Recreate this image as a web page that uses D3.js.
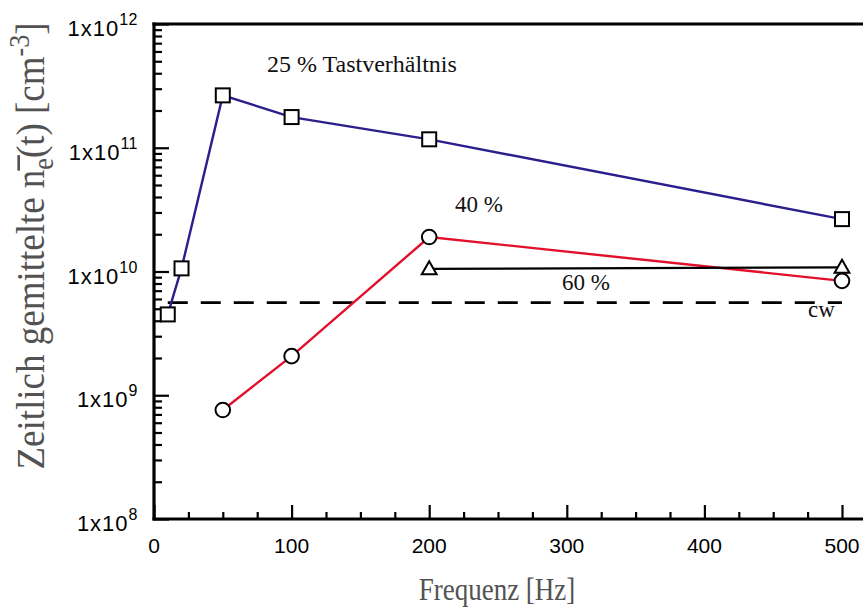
<!DOCTYPE html>
<html>
<head>
<meta charset="utf-8">
<script src="https://cdn.jsdelivr.net/npm/d3@7"></script>
<style>
  html, body { margin: 0; padding: 0; background: #fff; }
  svg { display: block; }
</style>
</head>
<body>
<svg id="chart" width="863" height="607"></svg>
<script>
// Mean electron density vs. modulation frequency for several duty cycles
const freq25 = [10, 20, 50, 100, 200, 500];
const dens25 = [4.5e9, 1.06e10, 2.65e11, 1.77e11, 1.17e11, 2.65e10];

const freq40 = [50, 100, 200, 500];
const dens40 = [7.6e8, 2.07e9, 1.9e10, 8.4e9];

const freq60 = [200, 500];
const dens60 = [1.05e10, 1.08e10];

const cwRange = [10, 500];
const cwDensity = 5.6e9;

const xTicks = [0, 100, 200, 300, 400, 500];
const yTickExp = [8, 9, 10, 11, 12];

const plotLeft = 154, plotRight = 863, plotTop = 24, plotBottom = 519;

const svg = d3.select("#chart");

const x = d3.scaleLinear().domain([0, 500]).range([plotLeft, 842]);
const y = d3.scaleLog().domain([1e8, 1e12]).range([plotBottom, plotTop]);

// minor tick positions
const xMinor = d3.range(25, 500, 25).filter(v => v % 100 !== 0);
const yMinor = [];
for (let e = 8; e < 12; e++) for (let m = 2; m <= 9; m++) yMinor.push(m * Math.pow(10, e));

const axisColor = "#000";

// y axis ticks (inward)
const gyMinor = svg.append("g").attr("transform", `translate(${plotLeft},0)`)
  .call(d3.axisLeft(y).tickValues(yMinor).tickSize(-8).tickFormat(() => ""));
const gyMajor = svg.append("g").attr("transform", `translate(${plotLeft},0)`)
  .call(d3.axisLeft(y).tickValues(yTickExp.map(e => Math.pow(10, e))).tickSize(-15).tickFormat(() => ""));

// x axis ticks (inward)
const gxMinor = svg.append("g").attr("transform", `translate(0,${plotBottom})`)
  .call(d3.axisBottom(x).tickValues(xMinor).tickSize(-7).tickFormat(() => ""));
const gxMajor = svg.append("g").attr("transform", `translate(0,${plotBottom})`)
  .call(d3.axisBottom(x).tickValues(xTicks).tickSize(-14).tickFormat(() => ""));

[gyMinor, gyMajor, gxMinor, gxMajor].forEach(g => {
  g.select(".domain").remove();
  g.selectAll(".tick line").attr("stroke", axisColor).attr("stroke-width", 2.2);
  g.selectAll(".tick text").remove();
});

// frame lines: left, bottom, top
svg.append("line").attr("x1", plotLeft).attr("x2", plotLeft).attr("y1", plotTop - 1.5).attr("y2", plotBottom + 1.5)
  .attr("stroke", axisColor).attr("stroke-width", 3.2);
svg.append("line").attr("x1", plotLeft - 1.5).attr("x2", plotRight).attr("y1", plotBottom).attr("y2", plotBottom)
  .attr("stroke", axisColor).attr("stroke-width", 3.2);
svg.append("line").attr("x1", plotLeft - 1.5).attr("x2", plotRight).attr("y1", plotTop).attr("y2", plotTop)
  .attr("stroke", axisColor).attr("stroke-width", 3.2);

// y tick labels 1x10^n
const yLab = svg.append("g").attr("font-family", "Liberation Sans, Arial, sans-serif").attr("fill", "#000");
yTickExp.forEach(e => {
  const t = yLab.append("text")
    .attr("x", 138).attr("y", y(Math.pow(10, e)) + 12)
    .attr("text-anchor", "end").attr("font-size", 22)
    .attr("letter-spacing", 1);
  t.append("tspan").text("1x10");
  t.append("tspan").attr("dy", -11).attr("font-size", 16).attr("letter-spacing", 0.5).text(e);
});

// x tick labels
const xLab = svg.append("g").attr("font-family", "Liberation Sans, Arial, sans-serif").attr("fill", "#000");
xTicks.forEach(v => {
  xLab.append("text").attr("x", x(v)).attr("y", plotBottom + 34)
    .attr("text-anchor", "middle").attr("font-size", 21).text(v);
});

// axis titles (serif, slightly tall glyphs)
const labelColor = "#525252";
svg.append("g").attr("transform", "translate(497,600) scale(1,1.2)")
  .append("text")
  .attr("x", 0).attr("y", 0)
  .attr("text-anchor", "middle")
  .attr("font-family", "Liberation Serif, Times New Roman, serif")
  .attr("font-size", 27).attr("fill", labelColor)
  .text("Frequenz [Hz]");

const yTitleG = svg.append("g").attr("transform", "translate(44,246) rotate(-90) scale(1,1.1)");
const yTitle = yTitleG.append("text")
  .attr("x", 0).attr("y", 0)
  .attr("text-anchor", "middle")
  .attr("font-family", "Liberation Serif, Times New Roman, serif")
  .attr("font-size", 37).attr("fill", labelColor);
yTitle.append("tspan").text("Zeitlich gemittelte  ");
yTitle.append("tspan").text("n");
yTitle.append("tspan").attr("dy", 8).attr("font-size", 26).text("e");
yTitle.append("tspan").attr("dy", -8).text("(t) [cm");
yTitle.append("tspan").attr("dy", -14).attr("font-size", 26).text("-3");
yTitle.append("tspan").attr("dy", 14).text("]");

// overline above the n
(function () {
  const idx = "Zeitlich gemittelte  ".length; // index of "n"
  const ext = yTitle.node().getExtentOfChar(idx);
  yTitleG.append("line")
    .attr("x1", ext.x - 1).attr("x2", ext.x + ext.width + 3)
    .attr("y1", -23).attr("y2", -23)
    .attr("stroke", labelColor).attr("stroke-width", 2.4);
})();

// series lines
const line = d3.line().x(d => x(d[0])).y(d => y(d[1]));
const s25 = d3.zip(freq25, dens25);
const s40 = d3.zip(freq40, dens40);
const s60 = d3.zip(freq60, dens60);

svg.append("path").datum(cwRange.map(f => [f, cwDensity])).attr("d", line)
  .attr("fill", "none").attr("stroke", "#000").attr("stroke-width", 2.6)
  .attr("stroke-dasharray", "20,13");

svg.append("path").datum(s25).attr("d", line)
  .attr("fill", "none").attr("stroke", "#2a1f8c").attr("stroke-width", 2.4);
svg.append("path").datum(s40).attr("d", line)
  .attr("fill", "none").attr("stroke", "#e2102c").attr("stroke-width", 2.4);
svg.append("path").datum(s60).attr("d", line)
  .attr("fill", "none").attr("stroke", "#000").attr("stroke-width", 2.4);

// markers
svg.append("g").selectAll("rect").data(s25).join("rect")
  .attr("x", d => x(d[0]) - 7).attr("y", d => y(d[1]) - 7)
  .attr("width", 14).attr("height", 14)
  .attr("fill", "#fff").attr("stroke", "#000").attr("stroke-width", 2);

svg.append("g").selectAll("circle").data(s40).join("circle")
  .attr("cx", d => x(d[0])).attr("cy", d => y(d[1])).attr("r", 7.3)
  .attr("fill", "#fff").attr("stroke", "#000").attr("stroke-width", 2);

const tri = d3.symbol().type(d3.symbolTriangle).size(95);
svg.append("g").selectAll("path").data(s60).join("path")
  .attr("transform", d => `translate(${x(d[0])},${y(d[1]) + 1})`)
  .attr("d", tri)
  .attr("fill", "#fff").attr("stroke", "#000").attr("stroke-width", 2);

// annotations
const ann = svg.append("g").attr("font-family", "Liberation Serif, Times New Roman, serif").attr("fill", "#111");
ann.append("text").attr("x", 267).attr("y", 72).attr("font-size", 24).text("25 % Tastverhältnis");
ann.append("text").attr("x", 455).attr("y", 212).attr("font-size", 23).text("40 %");
ann.append("text").attr("x", 562).attr("y", 290).attr("font-size", 23).text("60 %");
ann.append("text").attr("x", 808).attr("y", 317).attr("font-size", 23).text("cw");
</script>
</body>
</html>
